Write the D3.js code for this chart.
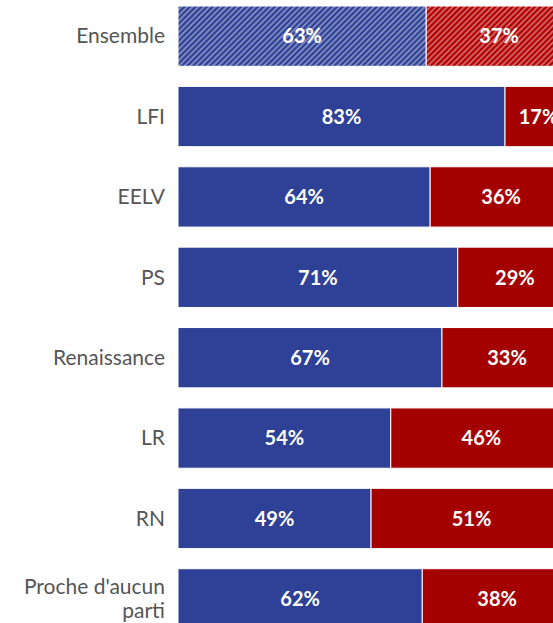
<!DOCTYPE html>
<html>
<head>
<meta charset="utf-8">
<script src="https://cdn.jsdelivr.net/npm/d3@7"></script>
<style>
  html, body { margin: 0; padding: 0; background: #fff; overflow: hidden; }
</style>
</head>
<body>
<div id="chart"></div>
<script>
// Categories (first row is the overall figure, drawn hatched)
const categories = ['Ensemble', 'LFI', 'EELV', 'PS', 'Renaissance', 'LR', 'RN', "Proche d'aucun parti"];
// Share answering "oui" (blue) and "non" (red), in percent
const blueValues = [63, 83, 64, 71, 67, 54, 49, 62];
const redValues = [37, 17, 36, 29, 33, 46, 51, 38];

const width = 553;
const height = 623;

const svg = d3.select('#chart').append('svg')
    .attr('width', width)
    .attr('height', height);

// Hatch patterns for the "Ensemble" row
const defs = svg.append('defs');
function hatch(id, color) {
    const p = defs.append('pattern')
        .attr('id', id)
        .attr('patternUnits', 'userSpaceOnUse')
        .attr('width', 4)
        .attr('height', 4)
        .attr('patternTransform', 'rotate(45)');
    p.append('rect').attr('width', 4).attr('height', 4).attr('fill', color);
    p.append('rect').attr('width', 1.6).attr('height', 4).attr('fill', '#ffffff').attr('opacity', 0.45);
}
hatch('hatch-blue', '#2e4196');
hatch('hatch-red', '#b20000');

const x = d3.scaleLinear().domain([0, 100]).range([178, 572]);
const y = d3.scaleBand().domain(categories).range([6, 629]).paddingInner(0.25).paddingOuter(0);

const rows = svg.selectAll('.row')
    .data(categories.map((c, i) => ({ cat: c, blue: blueValues[i], red: redValues[i], i })))
    .enter().append('g')
    .attr('class', 'row')
    .attr('transform', d => `translate(0,${y(d.cat)})`);

// Blue segment
rows.append('rect')
    .attr('x', x(0))
    .attr('width', d => x(d.blue) - x(0))
    .attr('height', y.bandwidth())
    .attr('fill', d => d.i === 0 ? 'url(#hatch-blue)' : '#2e4196')
    .attr('stroke', '#ffffff')
    .attr('stroke-width', 1);

// Red segment
rows.append('rect')
    .attr('x', d => x(d.blue))
    .attr('width', d => x(d.blue + d.red) - x(d.blue))
    .attr('height', y.bandwidth())
    .attr('fill', d => d.i === 0 ? 'url(#hatch-red)' : '#a50000')
    .attr('stroke', '#ffffff')
    .attr('stroke-width', 1);

// Value labels
const valueStyle = sel => sel
    .attr('y', y.bandwidth() / 2)
    .attr('dy', '0.36em')
    .attr('text-anchor', 'middle')
    .attr('fill', '#ffffff')
    .style('font-family', 'Lato, "Open Sans", sans-serif')
    .style('font-weight', 'bold')
    .style('font-size', '20px');

rows.append('text')
    .call(valueStyle)
    .attr('x', d => (x(0) + x(d.blue)) / 2)
    .text(d => `${d.blue}%`);

rows.append('text')
    .call(valueStyle)
    .attr('x', d => (x(d.blue) + x(d.blue + d.red)) / 2)
    .text(d => `${d.red}%`);

// Category labels, wrapped for the long one
rows.append('text')
    .attr('text-anchor', 'end')
    .attr('fill', '#555555')
    .style('font-family', 'Lato, "Open Sans", sans-serif')
    .style('font-size', '21px')
    .each(function(d) {
        const lines = d.cat === "Proche d'aucun parti" ? ["Proche d'aucun", 'parti'] : [d.cat];
        const t = d3.select(this);
        const lh = 24;
        lines.forEach((line, k) => {
            t.append('tspan')
                .attr('x', 165)
                .attr('y', y.bandwidth() / 2 + (k - (lines.length - 1) / 2) * lh)
                .attr('dy', '0.35em')
                .text(line);
        });
    });
</script>
</body>
</html>
